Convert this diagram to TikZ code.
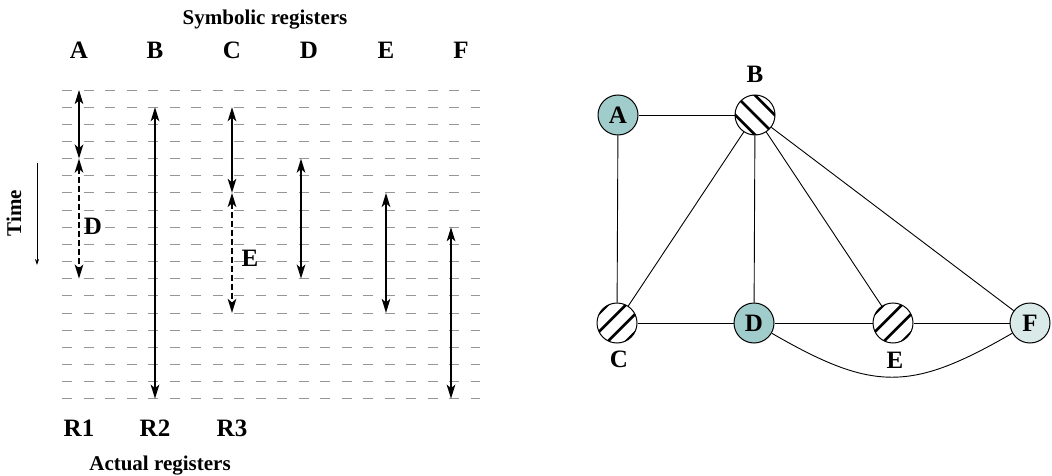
\documentclass[tikz,border=0pt]{standalone}
\usepackage{fontspec}
\setmainfont{Liberation Serif}
\usetikzlibrary{arrows.meta,calc}
\definecolor{teal1}{RGB}{160,205,203}
\definecolor{teal2}{RGB}{218,234,233}
\definecolor{gridgray}{RGB}{150,150,150}
\tikzset{
  gridline/.style={draw=gridgray, line width=0.9pt, dash pattern=on 10pt off 11.5pt},
  life/.style={line width=2pt, {Stealth[length=14pt,width=8.5pt,inset=3.5pt]}-{Stealth[length=14pt,width=8.5pt,inset=3.5pt]}},
  lifedash/.style={life, dash pattern=on 6pt off 3pt},
  biglab/.style={font=\fontsize{25}{25}\selectfont\bfseries, inner sep=0pt},
  midlab/.style={font=\fontsize{21}{21}\selectfont\bfseries, inner sep=0pt},
  gnode/.style={circle, draw, line width=1pt, minimum size=40pt, inner sep=0pt, font=\fontsize{25}{25}\selectfont\bfseries},
  gedge/.style={line width=0.9pt},
  hatchNW/.style={path picture={
    \foreach \o in {-14,0,14}{
      \draw[line width=2.6pt] ($(path picture bounding box.center)+(\o*0.7071,-\o*0.7071)+(-30,-30)$) -- ++(60,60);
    }}},
  hatchNE/.style={path picture={
    \foreach \o in {-19.5,-6.5,6.5,19.5}{
      \draw[line width=2.6pt] ($(path picture bounding box.center)+(\o*0.7071,\o*0.7071)+(-30,30)$) -- ++(60,-60);
    }}},
}
\begin{document}
\begin{tikzpicture}[x=1pt,y=-1pt]
\useasboundingbox (0,0) rectangle (1052,476);
% headings
\node[midlab] (symb) at (265,20) {Symbolic registers};
\node[midlab] (act) at (160,466) {Actual registers};
\node[biglab] (hA) at (79,50) {A};
\node[biglab] (hB) at (155,50) {B};
\node[biglab] (hC) at (232,50) {C};
\node[biglab] (hD) at (309,50) {D};
\node[biglab] (hE) at (386,50) {E};
\node[biglab] (hF) at (461,50) {F};
\node[biglab] (r1) at (79,428) {R1};
\node[biglab] (r2) at (155,428) {R2};
\node[biglab] (r3) at (232,428) {R3};
% grid
\foreach \i in {0,...,18}{
  \draw[gridline] (62,{90+17.15*\i}) -- (480,{90+17.15*\i});
}
% time
\node[midlab, rotate=90] (time) at (14,213) {Time};
\coordinate (t1) at (37,163);
\coordinate (t2) at (37,265);
\draw[line width=0.8pt, -{Stealth[length=6pt,width=4pt]}] (t1) -- (t2);
% life ranges
\coordinate (A0) at (79,{90+17.15*0});
\coordinate (A4) at (79,{90+17.15*4});
\coordinate (A11) at (79,{90+17.15*11});
\coordinate (B1) at (155,{90+17.15*1});
\coordinate (B18) at (155,{90+17.15*18});
\coordinate (C1) at (232,{90+17.15*1});
\coordinate (C6) at (232,{90+17.15*6});
\coordinate (C13) at (232,{90+17.15*13});
\coordinate (D4) at (301,{90+17.15*4});
\coordinate (D11) at (301,{90+17.15*11});
\coordinate (E6) at (386,{90+17.15*6});
\coordinate (E13) at (386,{90+17.15*13});
\coordinate (F8) at (451,{90+17.15*8});
\coordinate (F18) at (451,{90+17.15*18});
\draw[life] (A0) -- (A4);
\draw[lifedash] (A4) -- (A11);
\draw[life] (B1) -- (B18);
\draw[life] (C1) -- (C6);
\draw[lifedash] (C6) -- (C13);
\draw[life] (D4) -- (D11);
\draw[life] (E6) -- (E13);
\draw[life] (F8) -- (F18);
\node[biglab] (dl) at (93,226) {D};
\node[biglab] (el) at (250,258) {E};
% graph
\node[gnode, fill=teal1] (gA) at (618,115) {A};
\node[gnode, hatchNW] (gB) at (755,115) {};
\node[gnode, hatchNE] (gC) at (617,323) {};
\node[gnode, fill=teal1] (gD) at (754,323) {D};
\node[gnode, hatchNE] (gE) at (893,323) {};
\node[gnode, fill=teal2] (gF) at (1030,323) {F};
\node[biglab] (lB) at (755,74) {B};
\node[biglab] (lC) at (619,359) {C};
\node[biglab] (lE) at (895,360) {E};
\draw[gedge] (gA) -- (gB);
\draw[gedge] (gA) -- (gC);
\draw[gedge] (gB) -- (gC);
\draw[gedge] (gB) -- (gD);
\draw[gedge] (gB) -- (gE);
\draw[gedge] (gB) -- (gF);
\draw[gedge] (gC) -- (gD);
\draw[gedge] (gD) -- (gE);
\draw[gedge] (gE) -- (gF);
\draw[gedge] (gD) to[out=-30,in=-150,looseness=1.25] (gF);
\end{tikzpicture}
\end{document}
